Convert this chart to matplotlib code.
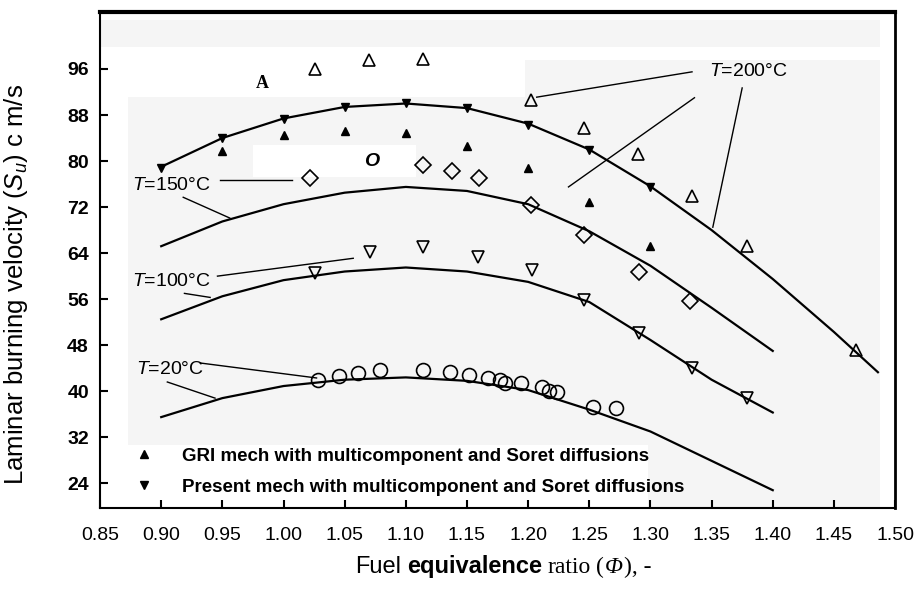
import matplotlib
matplotlib.use("Agg")
import matplotlib.pyplot as plt
from matplotlib.patches import Rectangle

plt.rcParams['font.family'] = ['Liberation Sans', 'DejaVu Sans']
plt.rcParams['mathtext.fontset'] = 'custom'
plt.rcParams['mathtext.rm'] = 'Liberation Sans'
plt.rcParams['mathtext.it'] = 'Liberation Sans:italic'

# ---- values ----
phi_curve = [0.90, 0.95, 1.00, 1.05, 1.10, 1.15, 1.20, 1.25, 1.30, 1.35, 1.40]
su_20_curve = [35.5, 38.8, 40.9, 42.0, 42.4, 41.8, 40.2, 36.8, 33.0, 27.9, 22.8]
su_100_curve = [52.5, 56.5, 59.3, 60.8, 61.5, 60.8, 59.0, 55.5, 48.9, 42.0, 36.3]
su_150_curve = [65.2, 69.5, 72.5, 74.5, 75.5, 74.8, 72.5, 67.8, 61.8, 54.5, 47.0]
phi_200_curve = [0.90, 0.95, 1.00, 1.05, 1.10, 1.15, 1.20, 1.25, 1.30, 1.35, 1.40, 1.45, 1.486]
su_200_curve = [79.0, 84.0, 87.4, 89.4, 90.0, 89.2, 86.5, 82.0, 75.6, 68.0, 59.5, 50.3, 43.3]

# present mech (filled down triangles) and GRI mech (filled up triangles)
phi_present = [0.90, 0.95, 1.00, 1.05, 1.10, 1.15, 1.20, 1.25, 1.30]
su_present = [78.8, 84.0, 87.3, 89.4, 90.0, 89.2, 86.3, 81.9, 75.5]
phi_gri = [0.95, 1.00, 1.05, 1.10, 1.15, 1.20, 1.25, 1.30]
su_gri = [81.7, 84.5, 85.2, 84.9, 82.6, 78.8, 72.9, 65.2]

# experiments
exp200_phi = [1.026, 1.070, 1.114, 1.202, 1.246, 1.290, 1.334, 1.379, 1.468]
exp200_su = [96.0, 97.6, 97.7, 90.6, 85.7, 81.2, 73.9, 65.2, 47.1]
exp150_phi = [1.022, 1.114, 1.138, 1.160, 1.202, 1.246, 1.291, 1.332]
exp150_su = [77.0, 79.3, 78.3, 77.0, 72.3, 67.1, 60.7, 55.7]
exp100_phi = [1.026, 1.071, 1.114, 1.159, 1.203, 1.246, 1.291, 1.334, 1.379]
exp100_su = [60.5, 64.2, 65.1, 63.3, 61.0, 55.8, 50.1, 44.0, 38.8]
exp20_phi = [1.028, 1.045, 1.061, 1.079, 1.114, 1.136, 1.152, 1.167, 1.177, 1.181,
             1.194, 1.211, 1.217, 1.224, 1.253, 1.272]
exp20_su = [41.9, 42.6, 43.1, 43.6, 43.6, 43.3, 42.8, 42.3, 42.0, 41.4,
            41.4, 40.7, 40.0, 39.8, 37.2, 37.0]

x_ticks = [0.85, 0.90, 0.95, 1.00, 1.05, 1.10, 1.15, 1.20, 1.25, 1.30, 1.35, 1.40, 1.45, 1.50]
y_ticks = [24, 32, 40, 48, 56, 64, 72, 80, 88, 96]

# label text, anchor (phi, Su) and leader lines (from, to)
labels = [
    ("200", (1.348, 95.5), [((1.334, 95.5), (1.207, 91.1)),
                            ((1.336, 91.0), (1.233, 75.5)),
                            ((1.375, 92.7), (1.351, 68.5))]),
    ("150", (0.876, 75.8), [((0.948, 76.7), (1.007, 76.7)),
                            ((0.918, 73.7), (0.956, 70.1))]),
    ("100", (0.876, 59.0), [((0.946, 60.0), (1.057, 63.1)),
                            ((0.919, 57.0), (0.940, 56.3))]),
    ("20", (0.879, 43.8), [((0.932, 44.9), (1.027, 42.3)),
                           ((0.905, 41.6), (0.944, 38.8))]),
]

fig = plt.figure(figsize=(9.18, 5.91), dpi=100)
ax = fig.add_axes([0.109, 0.1404, 0.866, 0.8393])

# scanned page shading
gray = '#f5f5f5'
for (x0, y0, w, h, c) in [(0.035, 0.127, 0.946, 0.702, gray),
                          (0.0, 0.929, 0.981, 0.055, gray),
                          (0.535, 0.829, 0.446, 0.074, gray),
                          (0.689, 0.0, 0.292, 0.127, gray),
                          (0.193, 0.667, 0.205, 0.065, 'white')]:
    ax.add_patch(Rectangle((x0, y0), w, h, transform=ax.transAxes,
                           facecolor=c, edgecolor='none', zorder=0))

lw = 1.6
ax.plot(phi_curve, su_20_curve, color='black', lw=lw, zorder=2)
ax.plot(phi_curve, su_100_curve, color='black', lw=lw, zorder=2)
ax.plot(phi_curve, su_150_curve, color='black', lw=lw, zorder=2)
ax.plot(phi_200_curve, su_200_curve, color='black', lw=lw, zorder=2)

ax.plot(phi_gri, su_gri, ls='none', marker='^', ms=6, color='black',
        label='GRI mech with multicomponent and Soret diffusions', zorder=3)
ax.plot(phi_present, su_present, ls='none', marker='v', ms=6, color='black',
        label='Present mech with multicomponent and Soret diffusions', zorder=3)

open_kw = dict(ls='none', mfc='none', mec='black', mew=1.2, zorder=3)
ax.plot(exp200_phi, exp200_su, marker='^', ms=9, **open_kw)
ax.plot(exp150_phi, exp150_su, marker='D', ms=8.5, **open_kw)
ax.plot(exp100_phi, exp100_su, marker='v', ms=9, **open_kw)
ax.plot(exp20_phi, exp20_su, marker='o', ms=10, **open_kw)

for temp, pos, leaders in labels:
    ax.text(pos[0], pos[1], r'$T$=' + temp + '°C', fontsize=14, va='center', ha='left')
    for p0, p1 in leaders:
        ax.plot([p0[0], p1[0]], [p0[1], p1[1]], color='black', lw=1.0, zorder=2)

# stray scan letters
ax.text(0.983, 93.5, 'A', fontsize=13, fontweight='bold', family='Liberation Serif',
        ha='center', va='center')
ax.text(1.072, 80.0, 'O', fontsize=14, fontweight='bold', fontstyle='italic',
        ha='center', va='center')

ax.set_xlim(0.85, 1.50)
ax.set_ylim(19.7, 105.9)
ax.set_xticks(x_ticks)
ax.set_xticklabels([f'{v:.2f}' for v in x_ticks])
ax.set_yticks(y_ticks)
ax.tick_params(axis='both', direction='in', length=6, width=1.5)
ax.tick_params(axis='x', labelsize=14, pad=14)
ax.tick_params(axis='y', labelsize=14, pad=8)
for t in ax.get_yticklabels():
    t.set_fontweight('bold')

ax.spines['top'].set_linewidth(3)
ax.spines['right'].set_linewidth(2)
ax.spines['bottom'].set_linewidth(1.5)
ax.spines['left'].set_linewidth(1.5)

leg = ax.legend(loc='upper left', bbox_to_anchor=(0.044, 0.122), frameon=False,
                borderpad=0, borderaxespad=0, handlelength=1.0, handletextpad=1.5,
                labelspacing=0.75, prop={'size': 13.5, 'weight': 'bold'})

ax.set_ylabel('Laminar burning velocity ($S_u$) c m/s', fontsize=18.5)
ax.yaxis.set_label_coords(-0.088, 0.45)

# x label with mixed fonts, as in the scan: pieces laid out one after another
serif = 'Liberation Serif'
xlabel_parts = [('Fuel', {}, 6),
                ('equivalence', {'fontweight': 'bold'}, 6),
                ('ratio', {'family': serif}, 5),
                ('(', {'family': serif}, 1),
                ('Φ', {'family': serif, 'fontstyle': 'italic'}, 1),
                ('), -', {'family': serif}, 0)]
renderer = fig.canvas.get_renderer()
x_px = 355
for txt, kw, gap in xlabel_parts:
    t = fig.text(x_px / 918, 0.030, txt, fontsize=17, va='baseline', **kw)
    x_px = t.get_window_extent(renderer).x1 + gap

fig.savefig('out.png', dpi=100)
